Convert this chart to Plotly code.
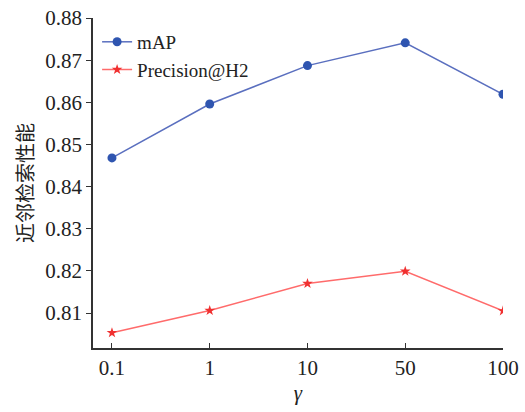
import plotly.graph_objects as go

gamma = ["0.1", "1", "10", "50", "100"]
map_vals = [0.8468, 0.8596, 0.8687, 0.8741, 0.8619]
prec_vals = [0.8053, 0.8106, 0.8170, 0.8199, 0.8105]
y_ticks = [0.81, 0.82, 0.83, 0.84, 0.85, 0.86, 0.87, 0.88]

fig = go.Figure()
fig.add_trace(go.Scatter(x=gamma, y=map_vals, mode="lines+markers", name="mAP",
                         line=dict(color="#5a6fbf", width=1.5),
                         marker=dict(color="#2f55b0", size=9, symbol="circle")))
fig.add_trace(go.Scatter(x=gamma, y=prec_vals, mode="lines+markers", name="Precision@H2",
                         line=dict(color="#ff6b6b", width=1.5),
                         marker=dict(color="#f03030", size=8, symbol="star")))

fig.update_layout(
    width=525, height=412,
    margin=dict(l=93, r=22, t=18, b=64, autoexpand=False),
    paper_bgcolor="white", plot_bgcolor="white",
    font=dict(family="Liberation Serif", size=21, color="#222"),
    showlegend=True,
    legend=dict(x=0.01, y=0.985, xanchor="left", yanchor="top",
                bgcolor="rgba(0,0,0,0)", font=dict(size=19), tracegroupgap=0,
                itemwidth=30),
    xaxis=dict(type="category", range=[-0.194, 4], showline=True, linecolor="#333",
               linewidth=1.5, ticks="inside", ticklen=5, tickcolor="#333",
               showgrid=False, zeroline=False, mirror=False, automargin=False,
               ticklabeloverflow="allow",
               title=dict(text="<i>γ</i>", font=dict(size=21), standoff=6)),
    yaxis=dict(range=[0.8017, 0.88], tickvals=y_ticks,
               ticktext=[f"{v:.2f}" for v in y_ticks],
               showline=True, linecolor="#333", linewidth=1.5,
               ticks="outside", ticklen=5, tickcolor="#333",
               showgrid=False, zeroline=False, automargin=False,
               ticklabeloverflow="allow",
               title=dict(text="近邻检索性能", font=dict(size=20, family="Noto Sans CJK SC"), standoff=6)),
)
fig.write_html("out.html", config={"displayModeBar": False},
               post_script="document.body.style.margin='0';")
